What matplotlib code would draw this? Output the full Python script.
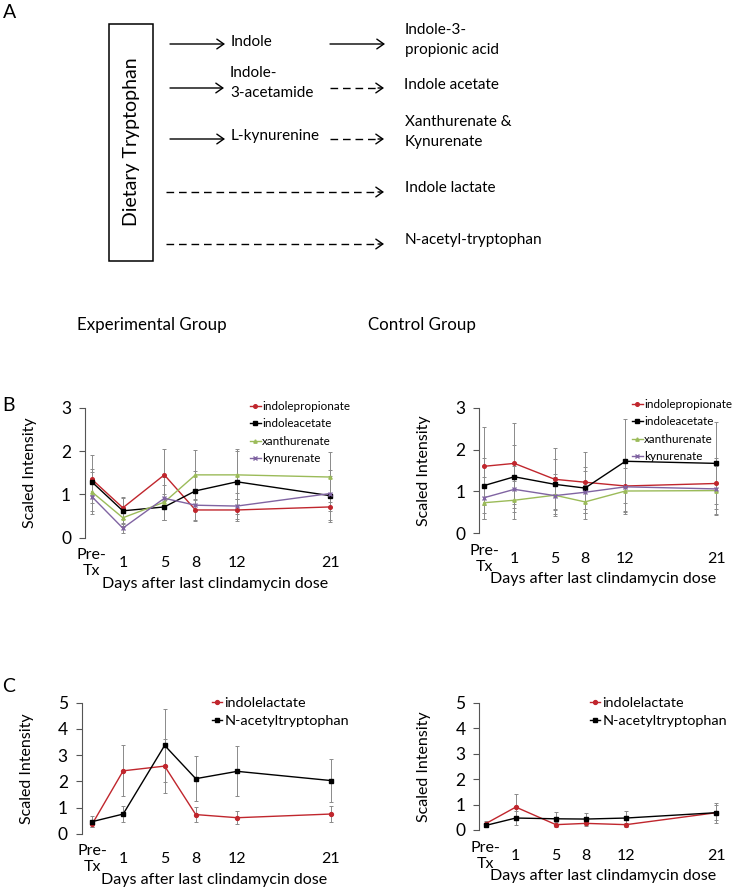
import matplotlib
matplotlib.use("Agg")
import matplotlib.pyplot as plt
from matplotlib.lines import Line2D
from matplotlib.patches import Rectangle, FancyArrowPatch

plt.rcParams["font.family"] = ["Lato", "DejaVu Sans"]
plt.rcParams["axes.spines.right"] = False
plt.rcParams["axes.spines.top"] = False
plt.rcParams["axes.spines.bottom"] = False

W, H = 738, 891

# ---- data ----
DAYS = [-2, 1, 5, 8, 12, 21]
DAY_LABELS = ["Pre-\nTx", "1", "5", "8", "12", "21"]

B_NAMES = ["indolepropionate", "indoleacetate", "xanthurenate", "kynurenate"]
B_EXP_MEAN = [
    [1.35, 0.69, 1.45, 0.64, 0.64, 0.71],
    [1.29, 0.62, 0.71, 1.08, 1.29, 0.97],
    [1.06, 0.46, 0.82, 1.45, 1.45, 1.40],
    [0.95, 0.22, 0.91, 0.75, 0.73, 1.02],
]
B_EXP_ERR = [
    [0.55, 0.25, 0.60, 0.25, 0.25, 0.30],
    [0.30, 0.30, 0.30, 0.45, 0.75, 0.60],
    [0.45, 0.20, 0.40, 0.58, 0.55, 0.58],
    [0.40, 0.12, 0.50, 0.35, 0.30, 0.40],
]
B_CTL_MEAN = [
    [1.60, 1.67, 1.29, 1.22, 1.13, 1.19],
    [1.14, 1.35, 1.17, 1.08, 1.72, 1.67],
    [0.73, 0.79, 0.91, 0.75, 1.01, 1.02],
    [0.85, 1.05, 0.90, 0.98, 1.11, 1.06],
]
B_CTL_ERR = [
    [0.93, 0.97, 0.74, 0.73, 0.60, 0.60],
    [0.65, 0.75, 0.60, 0.50, 1.00, 0.98],
    [0.40, 0.45, 0.50, 0.40, 0.55, 0.58],
    [0.50, 0.55, 0.45, 0.50, 0.60, 0.60],
]

C_NAMES = ["indolelactate", "N-acetyltryptophan"]
C_EXP_MEAN = [
    [0.36, 2.40, 2.58, 0.73, 0.61, 0.75],
    [0.46, 0.75, 3.37, 2.10, 2.38, 2.03],
]
C_EXP_ERR = [
    [0.12, 0.98, 1.03, 0.28, 0.25, 0.30],
    [0.20, 0.30, 1.38, 0.85, 0.95, 0.82],
]
C_CTL_MEAN = [
    [0.25, 0.90, 0.21, 0.26, 0.21, 0.68],
    [0.18, 0.47, 0.44, 0.43, 0.47, 0.68],
]
C_CTL_ERR = [
    [0.12, 0.50, 0.10, 0.12, 0.08, 0.30],
    [0.08, 0.27, 0.26, 0.22, 0.27, 0.40],
]

B_COLORS = ["#C0262D", "#000000", "#9BBB59", "#8064A2"]
B_MARKERS = ["o", "s", "^", "x"]
B_MS = [2.6, 3.0, 2.4, 3.0]
C_COLORS = ["#C0262D", "#000000"]
C_MARKERS = ["o", "s"]
C_MS = [2.8, 3.4]
ERR_C = "#8a8a8a"


def fx(px):
    return px / W


def fy(py):
    return 1 - py / H


def make_ax(fig, left, top, right, bottom):
    return fig.add_axes([fx(left), fy(bottom), fx(right - left), (bottom - top) / H])


def style_ax(ax, xlim, ymax, width_px, height_px):
    ax.set_xlim(*xlim)
    ax.set_ylim(0, ymax)
    ax.set_xticks(DAYS)
    ax.set_xticklabels(DAY_LABELS, fontsize=11.5, linespacing=1.2)
    for t in ax.get_xticklabels():
        t.set_va("center")
    ax.tick_params(axis="x", length=0, pad=18.5)
    ax.set_yticks(range(0, ymax + 1))
    ax.tick_params(axis="y", length=4, width=0.8, pad=6, labelsize=12.5,
                   color="#555555")
    ax.spines["left"].set_color("#555555")
    ax.spines["left"].set_linewidth(0.8)
    ax.set_ylabel("Scaled Intensity", fontsize=11.5, va="center")
    ax.yaxis.set_label_coords(-55 / width_px, 0.5)
    ax.set_xlabel("Days after last clindamycin dose", fontsize=11.5, va="center")
    ax.xaxis.set_label_coords(0.5, -46 / height_px)
    ax.patch.set_alpha(0)


def draw_series(ax, means, errs, names, colors, markers, sizes, lw):
    for m, e, n, c, mk, ms in zip(means, errs, names, colors, markers, sizes):
        ax.errorbar(DAYS, m, yerr=e, fmt="none", ecolor=ERR_C, elinewidth=0.7,
                    capsize=1.6, capthick=0.7, zorder=1)
        ax.plot(DAYS, m, color=c, marker=mk, ms=ms, lw=lw, mew=1.0,
                label=n, zorder=3)


fig = plt.figure(figsize=(W / 100, H / 100), dpi=100)

# ---- panel A: pathway diagram ----
fig.text(fx(10), fy(12), "A", fontsize=14, ha="center", va="center")
fig.add_artist(Rectangle((fx(109), fy(261)), fx(153 - 109), (261 - 24) / H,
                         transform=fig.transFigure, fill=False, lw=1.1,
                         edgecolor="black"))
fig.text(fx(132), fy(142), "Dietary Tryptophan", rotation=90, fontsize=14,
         ha="center", va="center")

HEAD = "->,head_length=5,head_width=3.5"


def arrow(x0, x1, y, dashed):
    if dashed:
        fig.add_artist(Line2D([fx(x0), fx(x1 - 5)], [fy(y), fy(y)],
                              transform=fig.transFigure, color="black",
                              lw=1.0, linestyle=(0, (5.5, 3.5))))
        start = x1 - 6
    else:
        start = x0
    fig.add_artist(FancyArrowPatch(
        (fx(start), fy(y)), (fx(x1), fy(y)), transform=fig.transFigure,
        arrowstyle=HEAD, color="black", lw=1.0, shrinkA=0, shrinkB=0))


A_FS = 11
arrow(170, 225, 44, False)
fig.text(fx(231), fy(42), "Indole", fontsize=A_FS, va="center")
arrow(330, 385, 44, False)
fig.text(fx(405), fy(40), "Indole-3-\npropionic acid", fontsize=A_FS,
         va="center", linespacing=1.5)

arrow(170, 224, 88, False)
fig.text(fx(230), fy(83), "Indole-\n3-acetamide", fontsize=A_FS, va="center",
         linespacing=1.5)
arrow(330, 384, 88, True)
fig.text(fx(404), fy(85), "Indole acetate", fontsize=A_FS, va="center")

arrow(170, 225, 139, False)
fig.text(fx(231), fy(136), "L-kynurenine", fontsize=A_FS, va="center")
arrow(330, 384, 139, True)
fig.text(fx(405), fy(132), "Xanthurenate &\nKynurenate", fontsize=A_FS,
         va="center", linespacing=1.5)

arrow(166, 384, 192, True)
fig.text(fx(405), fy(188), "Indole lactate", fontsize=A_FS, va="center")
arrow(166, 384, 244, True)
fig.text(fx(405), fy(240), "N-acetyl-tryptophan", fontsize=A_FS, va="center")

# ---- group titles ----
fig.text(fx(152), fy(325), "Experimental Group", fontsize=12.2,
         ha="center", va="center")
fig.text(fx(422), fy(325), "Control Group", fontsize=12.2,
         ha="center", va="center")

LEG_B = dict(bbox_transform=fig.transFigure, frameon=False, fontsize=8.4,
             handlelength=0.9, handletextpad=0.15, labelspacing=0.55,
             borderpad=0, borderaxespad=0, loc="upper left")
LEG_C = dict(bbox_transform=fig.transFigure, frameon=False, fontsize=10.4,
             handlelength=0.7, handletextpad=0.15, labelspacing=0.4,
             borderpad=0, borderaxespad=0, loc="upper left")

# ---- panel B ----
fig.text(fx(9), fy(405), "B", fontsize=14, ha="center", va="center")
axB1 = make_ax(fig, 85, 407.7, 345.8, 537.7)
draw_series(axB1, B_EXP_MEAN, B_EXP_ERR, B_NAMES, B_COLORS, B_MARKERS, B_MS, 1.0)
style_ax(axB1, (-2.65, 22.5), 3, 260.8, 130)
axB1.legend(bbox_to_anchor=(fx(250), fy(401)), **LEG_B)

axB2 = make_ax(fig, 479.3, 407.7, 726.4, 533.3)
draw_series(axB2, B_CTL_MEAN, B_CTL_ERR, B_NAMES, B_COLORS, B_MARKERS, B_MS, 1.0)
style_ax(axB2, (-2.47, 22), 3, 247.1, 125.6)
axB2.legend(bbox_to_anchor=(fx(632), fy(399)), **LEG_B)

# ---- panel C ----
fig.text(fx(9), fy(686), "C", fontsize=14, ha="center", va="center")
axC1 = make_ax(fig, 81.7, 702.7, 346.1, 833.7)
draw_series(axC1, C_EXP_MEAN, C_EXP_ERR, C_NAMES, C_COLORS, C_MARKERS, C_MS, 1.0)
style_ax(axC1, (-3.0, 22.5), 5, 264.4, 131)
axC1.legend(bbox_to_anchor=(fx(212), fy(697)), **LEG_C)

axC2 = make_ax(fig, 479.3, 702.7, 726.4, 830)
draw_series(axC2, C_CTL_MEAN, C_CTL_ERR, C_NAMES, C_COLORS, C_MARKERS, C_MS, 1.0)
style_ax(axC2, (-2.64, 22), 5, 247.1, 127.3)
axC2.legend(bbox_to_anchor=(fx(590), fy(697)), **LEG_C)

fig.savefig("out.png", dpi=100)
plt.close(fig)
